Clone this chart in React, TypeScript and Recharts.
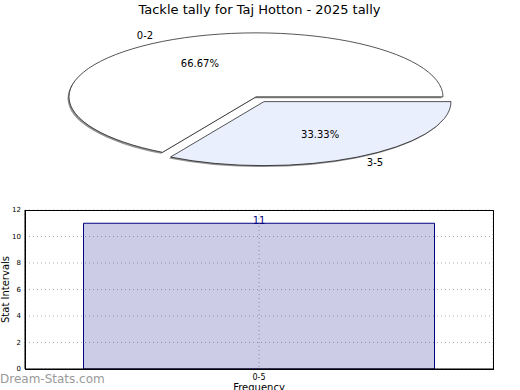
import { PieChart, Pie, Cell, BarChart, Bar, XAxis, YAxis, CartesianGrid, LabelList } from 'recharts';

const pieLabels = ['0-2', '3-5'];
const pieValues = [2, 1];
const pieColors = ['#ffffff', '#e9effc'];

const barCategories = ['0-5'];
const barValues = [11];
const yTicks = [0, 2, 4, 6, 8, 10, 12];

const pieData = pieLabels.map((name, i) => ({ name, value: pieValues[i] }));
const barData = barCategories.map((cat, i) => ({ cat, value: barValues[i] }));

const FONT = '"DejaVu Sans", sans-serif';
const RX = 187;
const RY = 64;
const S = RY / RX;
const PIE_H = 460;
const CX = 256;
const CY = 210;
const EXPLODE = 16;
const RAD = Math.PI / 180;
// exploded slice centre, pushed out along its mid angle (300deg)
const CX2 = CX + EXPLODE * Math.cos(300 * RAD);
const CY2 = CY - EXPLODE * Math.sin(300 * RAD);
const SH_X = -1.5;
const SH_Y = 1.5 / S;

function makeLabel(show: number) {
  return (props: any) => {
    const { cx, cy, midAngle, outerRadius, percent, index, name } = props;
    if (index !== show) return null;
    const c = Math.cos(-midAngle * RAD);
    const sn = Math.sin(-midAngle * RAD);
    const lx = cx + outerRadius * 1.1 * c;
    const ly = cy + outerRadius * 1.1 * sn;
    const px = cx + outerRadius * 0.6 * c;
    const py = cy + outerRadius * 0.6 * sn;
    const unsquash = `scale(1,${1 / S})`;
    return (
      <g>
        <text
          transform={`translate(${lx},${ly}) ${unsquash}`}
          textAnchor={lx < cx ? 'end' : 'start'}
          dominantBaseline="central"
          fontSize={10}
          fontFamily={FONT}
          fill="#000"
        >
          {name}
        </text>
        <text
          transform={`translate(${px},${py}) ${unsquash}`}
          textAnchor="middle"
          dominantBaseline="central"
          fontSize={10}
          fontFamily={FONT}
          fill="#000"
        >
          {(percent * 100).toFixed(2)}%
        </text>
      </g>
    );
  };
}

function slicePie(key: string, cx: number, cy: number, show: number, shadow: boolean) {
  return (
    <Pie
      key={key}
      data={pieData}
      dataKey="value"
      nameKey="name"
      cx={cx}
      cy={cy}
      outerRadius={RX}
      startAngle={0}
      endAngle={360}
      isAnimationActive={false}
      label={shadow ? false : makeLabel(show)}
      labelLine={false}
    >
      {pieData.map((_, i) => (
        <Cell
          key={i}
          fill={i !== show ? 'none' : shadow ? '#939393' : pieColors[i]}
          stroke={i !== show || shadow ? 'none' : '#000'}
          strokeWidth={1}
          vectorEffect="non-scaling-stroke"
        />
      ))}
    </Pie>
  );
}

export default function App() {
  return (
    <div
      style={{
        position: 'absolute',
        left: 0,
        top: 0,
        width: 520,
        height: 390,
        overflow: 'hidden',
        background: '#fff',
        fontFamily: FONT,
      }}
    >
      <div style={{ position: 'absolute', top: 1, width: 519, textAlign: 'center', fontSize: 13, lineHeight: '18px' }}>
        Tackle tally for Taj Hotton - 2025 tally
      </div>

      <div
        style={{
          position: 'absolute',
          left: 0,
          top: 97 - CY * S,
          width: 520,
          height: PIE_H,
          transform: `scaleY(${S})`,
          transformOrigin: 'top left',
        }}
      >
        <PieChart width={520} height={PIE_H} margin={{ top: 0, right: 0, bottom: 0, left: 0 }}>
          {slicePie('sh0', CX + SH_X, CY + SH_Y, 0, true)}
          {slicePie('sh1', CX2 + SH_X, CY2 + SH_Y, 1, true)}
          {slicePie('p0', CX, CY, 0, false)}
          {slicePie('p1', CX2, CY2, 1, false)}
        </PieChart>
      </div>

      <div style={{ position: 'absolute', left: 0, top: 200 }}>
        <BarChart
          width={520}
          height={200}
          data={barData}
          margin={{ top: 10, right: 27, bottom: 0, left: 0 }}
          barCategoryGap="12.5%"
        >
          <CartesianGrid stroke="#b0b0b0" strokeDasharray="1 3" />
          <XAxis
            dataKey="cat"
            height={31}
            tickLine={false}
            tickSize={0}
            tickMargin={5}
            axisLine={{ stroke: '#000' }}
            tick={{ fontSize: 8, fill: '#000', fontFamily: FONT }}
            label={{ value: 'Frequency', position: 'insideBottom', offset: 9, fontSize: 10, fill: '#000', fontFamily: FONT }}
          />
          <YAxis
            width={25}
            domain={[0, 12]}
            ticks={yTicks}
            tickLine={false}
            tickSize={0}
            tickMargin={4}
            axisLine={{ stroke: '#000' }}
            tick={{ fontSize: 7, fill: '#000', fontFamily: FONT }}
            label={{
              value: 'Stat Intervals',
              angle: -90,
              position: 'insideLeft',
              offset: 5,
              fontSize: 10,
              fill: '#000',
              fontFamily: FONT,
              style: { textAnchor: 'middle' },
            }}
          />
          <Bar dataKey="value" fill="#000080" fillOpacity={0.2} stroke="#000080" strokeWidth={1} isAnimationActive={false}>
            <LabelList dataKey="value" position="top" offset={-1} fill="#000080" fontSize={10} fontFamily={FONT} />
          </Bar>
        </BarChart>
      </div>

      {/* plot frame */}
      <div
        style={{
          position: 'absolute',
          left: 25,
          top: 210,
          width: 467,
          height: 158,
          border: '1px solid #000',
          pointerEvents: 'none',
        }}
      />

      <div style={{ position: 'absolute', left: 0, top: 372, fontSize: 12, color: '#9a9a9a', lineHeight: '14px' }}>
        Dream-Stats.com
      </div>
    </div>
  );
}
